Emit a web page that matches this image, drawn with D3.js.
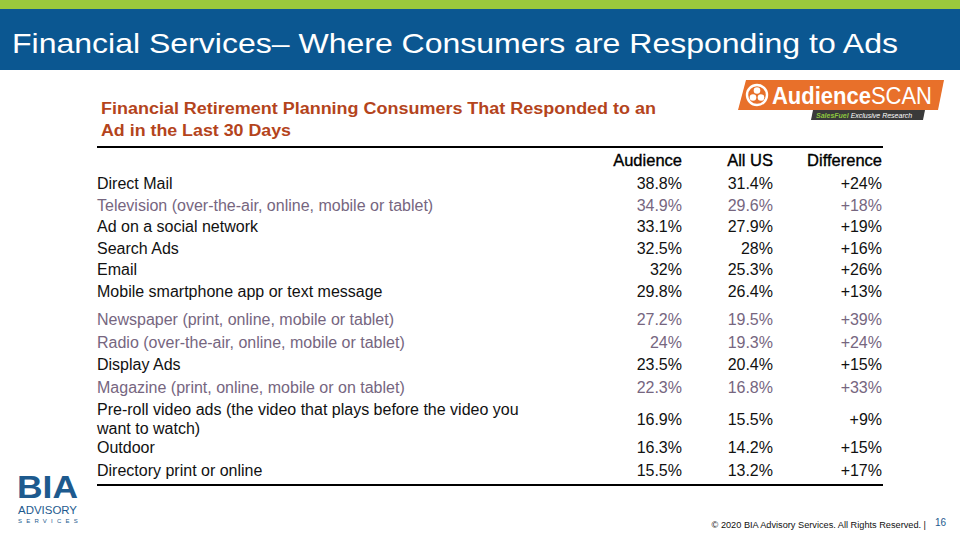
<!DOCTYPE html>
<html>
<head>
<meta charset="utf-8">
<script src="https://cdn.jsdelivr.net/npm/d3@7"></script>
<style>
  body { margin: 0; background: #fff; }
  svg { display: block; font-family: "Liberation Sans", Arial, sans-serif; }
</style>
</head>
<body>
<div id="chart"></div>
<script>
// data
const channels = [
  "Direct Mail",
  "Television (over-the-air, online, mobile or tablet)",
  "Ad on a social network",
  "Search  Ads",
  "Email",
  "Mobile smartphone app or text message",
  "Newspaper (print, online, mobile or tablet)",
  "Radio (over-the-air, online, mobile or tablet)",
  "Display Ads",
  "Magazine (print, online, mobile or on tablet)",
  "Pre-roll video ads (the video that plays before the video you|want to watch)",
  "Outdoor",
  "Directory print or online"
];
const audience = [38.8, 34.9, 33.1, 32.5, 32, 29.8, 27.2, 24, 23.5, 22.3, 16.9, 16.3, 15.5];
const allUS    = [31.4, 29.6, 27.9, 28, 25.3, 26.4, 19.5, 19.3, 20.4, 16.8, 15.5, 14.2, 13.2];
const difference = [24, 18, 19, 16, 26, 13, 39, 24, 15, 33, 9, 15, 17];
const columns = ["Audience", "All US", "Difference"];
const mutedRows = [1, 6, 7, 9];   // rows printed in the grey-purple tone
const groupBreak = 6;             // second block of rows starts here

const width = 960, height = 540;
const svg = d3.select("#chart").append("svg")
  .attr("width", width).attr("height", height);

// header band
svg.append("rect").attr("x", 0).attr("y", 0).attr("width", width).attr("height", 9).attr("fill", "#9ac93c");
svg.append("rect").attr("x", 0).attr("y", 9).attr("width", width).attr("height", 61).attr("fill", "#0b5791");
svg.append("text")
  .attr("x", 12).attr("y", 53)
  .attr("fill", "#fff")
  .attr("font-size", 28)
  .attr("textLength", 886).attr("lengthAdjust", "spacingAndGlyphs")
  .text("Financial Services– Where Consumers are Responding to Ads");

// subtitle
const sub = svg.append("text")
  .attr("fill", "#b4441c")
  .attr("font-weight", "bold")
  .attr("font-size", 16);
sub.append("tspan").attr("x", 101).attr("y", 114)
  .attr("textLength", 555).attr("lengthAdjust", "spacingAndGlyphs")
  .text("Financial Retirement Planning Consumers That Responded to an");
sub.append("tspan").attr("x", 101).attr("y", 136)
  .attr("textLength", 190).attr("lengthAdjust", "spacingAndGlyphs")
  .text("Ad in the Last 30 Days");

// AudienceSCAN logo
const logo = svg.append("g").attr("transform", "translate(738,80)");
logo.append("path").attr("d", "M8,0 H206 L200,30 H0 Z").attr("fill", "#e8702a");
logo.append("circle").attr("cx", 19).attr("cy", 15).attr("r", 10).attr("fill", "none").attr("stroke", "#fff").attr("stroke-width", 2.4);
[[19, 10.5], [15, 17.5], [23, 17.5]].forEach(([cx, cy]) =>
  logo.append("circle").attr("cx", cx).attr("cy", cy).attr("r", 3.3).attr("fill", "#fff"));
const brand = logo.append("text").attr("x", 34).attr("y", 24).attr("fill", "#fff")
  .attr("font-size", 23).attr("textLength", 160).attr("lengthAdjust", "spacingAndGlyphs");
brand.append("tspan").attr("font-weight", "bold").text("Audience");
brand.append("tspan").text("SCAN");
logo.append("path").attr("d", "M75,30 H187 L185,40 H73 Z").attr("fill", "#3a3a3a");
const tag = logo.append("text").attr("x", 78).attr("y", 38).attr("font-size", 7).attr("font-style", "italic");
tag.append("tspan").attr("fill", "#8cc63f").attr("font-weight", "bold").text("SalesFuel ");
tag.append("tspan").attr("fill", "#fff").text("Exclusive Research");

// table
const left = 97, right = 883;
const colX = {"Audience": 682, "All US": 773, "Difference": 882};

// row layout: line count per row, then cumulative baselines
const lineCounts = channels.map(c => c.split("|").length);
const rowStep = [21.6, 22.5];
const lineStep = 19;
const rowY = [];
let yy = 189;
channels.forEach((c, i) => {
  if (i === groupBreak) yy = 325;
  rowY.push(yy);
  const step = rowStep[i < groupBreak ? 0 : 1];
  yy += lineCounts[i] > 1 ? lineStep * lineCounts[i] : step;
});

svg.append("line").attr("x1", left).attr("x2", right).attr("y1", 147).attr("y2", 147)
  .attr("stroke", "#000").attr("stroke-width", 2);
svg.append("line").attr("x1", left).attr("x2", right).attr("y1", 485).attr("y2", 485)
  .attr("stroke", "#000").attr("stroke-width", 2);

svg.selectAll("text.head")
  .data(columns)
  .join("text")
  .attr("class", "head")
  .attr("x", d => colX[d]).attr("y", 166)
  .attr("text-anchor", "end")
  .attr("font-size", 16.5)
  .attr("fill", "#000")
  .attr("stroke", "#000").attr("stroke-width", 0.35)
  .text(d => d);

const fmtPct = v => `${v}%`;
const fmtDiff = v => `+${v}%`;

const rows = svg.selectAll("g.row")
  .data(channels.map((c, i) => ({
    label: c.split("|"),
    values: [fmtPct(audience[i]), fmtPct(allUS[i]), fmtDiff(difference[i])],
    y: rowY[i],
    muted: mutedRows.includes(i)
  })))
  .join("g")
  .attr("class", "row")
  .attr("fill", d => d.muted ? "#76667f" : "#111")
  .attr("font-size", 16);

rows.append("text")
  .selectAll("tspan")
  .data(d => d.label.map((t, k) => ({t, y: d.y + k * lineStep})))
  .join("tspan")
  .attr("x", left)
  .attr("y", d => d.y)
  .text(d => d.t);

rows.selectAll("text.val")
  .data(d => d.values.map((v, k) => ({v, col: columns[k], y: d.y + (d.label.length - 1) * lineStep / 2})))
  .join("text")
  .attr("class", "val")
  .attr("x", d => colX[d.col])
  .attr("y", d => d.y)
  .attr("text-anchor", "end")
  .text(d => d.v);

// BIA logo
const bia = svg.append("g").attr("transform", "translate(17,474)");
bia.append("text").attr("x", 0).attr("y", 24).attr("fill", "#1d5a8e")
  .attr("font-weight", "bold").attr("font-size", 31).attr("textLength", 61).attr("lengthAdjust", "spacingAndGlyphs").text("BIA");
bia.append("text").attr("x", 1).attr("y", 40).attr("fill", "#1d5a8e")
  .attr("font-size", 10.5).attr("textLength", 59).attr("lengthAdjust", "spacingAndGlyphs").text("ADVISORY");
bia.append("text").attr("x", 1).attr("y", 49).attr("fill", "#1d5a8e")
  .attr("font-size", 6).attr("letter-spacing", 4.2).text("SERVICES");

// footer
svg.append("text").attr("x", 926).attr("y", 528).attr("text-anchor", "end")
  .attr("font-size", 9.2).attr("fill", "#111")
  .text("© 2020 BIA Advisory Services. All Rights Reserved.  |");
svg.append("text").attr("x", 935).attr("y", 526)
  .attr("font-size", 10).attr("fill", "#1d5a8e").text("16");
</script>
</body>
</html>
